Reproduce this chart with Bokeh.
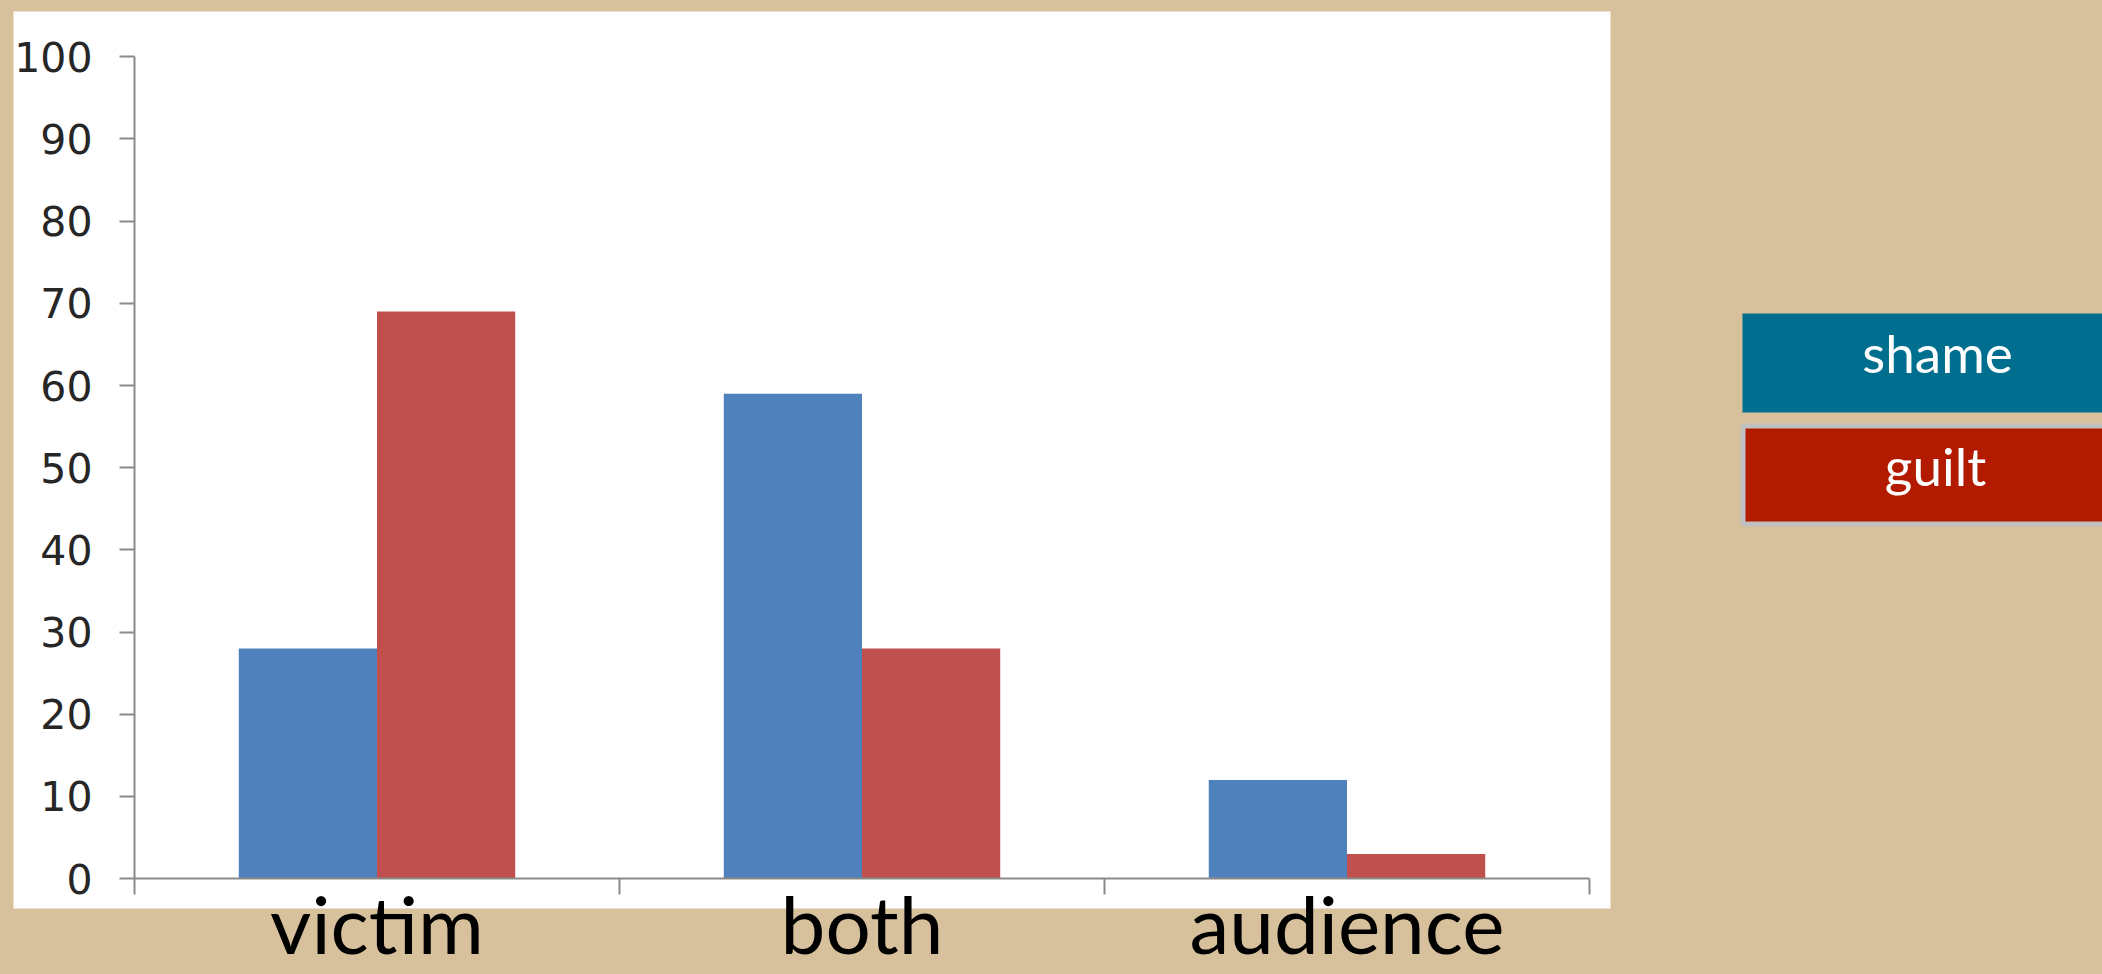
from bokeh.plotting import figure
from bokeh.models import (LinearAxis, FixedTicker, ColumnDataSource, Range1d,
                          BoxAnnotation, Label)
from bokeh.transform import dodge
from bokeh.embed import file_html
from bokeh.resources import INLINE

# ---- data ----
categories = ["victim", "both", "audience"]
shame = [28, 59, 12]
guilt = [69, 28, 3]
y_ticks = [0, 10, 20, 30, 40, 50, 60, 70, 80, 90, 100]
legend_labels = ["shame", "guilt"]

BEIGE = "#d7c19c"
BLUE = "#4f81bd"
RED = "#c0504d"
AXIS = "#8a8a8a"
W, H = 2102, 974

# layout geometry (pixels): where category axis starts, px per category, y=0 row, px per unit
AX_X, PX_CAT = 134.0, 485.0
AX_Y, PX_VAL = 878.1, 8.218


def dx(px):
    return (px - AX_X) / PX_CAT


def dy(py):
    return (AX_Y - py) / PX_VAL


idx = list(range(len(categories)))
centers = [i + 0.5 for i in idx]
src = ColumnDataSource(dict(x=centers, cat=categories, shame=shame, guilt=guilt))

p = figure(width=W, height=H, output_backend="svg", toolbar_location=None,
           x_range=Range1d(dx(0), dx(W)), y_range=Range1d(dy(H), dy(0)),
           x_axis_location=None, y_axis_location=None,
           min_border=0, min_border_left=0, min_border_right=0,
           min_border_top=0, min_border_bottom=0)
p.extra_x_ranges = {"lab": Range1d(dx(0) - 0.5, dx(W) - 0.5)}
p.background_fill_color = BEIGE
p.border_fill_color = BEIGE
p.outline_line_color = None
p.xgrid.visible = False
p.ygrid.visible = False

# white chart panel
p.add_layout(BoxAnnotation(left=dx(13), right=dx(1610), top=dy(11), bottom=dy(908),
                           fill_color="white", fill_alpha=1, line_color=None,
                           level="underlay"))

bw = 0.285
p.vbar(x=dodge("x", -bw / 2), top="shame", width=bw, bottom=0, source=src,
       fill_color=BLUE, line_color=None)
p.vbar(x=dodge("x", bw / 2), top="guilt", width=bw, bottom=0, source=src,
       fill_color=RED, line_color=None)

# y axis
ya = LinearAxis(fixed_location=0, bounds=(0, 100), ticker=FixedTicker(ticks=y_ticks))
ya.axis_line_color = AXIS
ya.axis_line_width = 2
ya.major_tick_line_color = AXIS
ya.major_tick_line_width = 2
ya.major_tick_in = 0
ya.major_tick_out = 15
ya.minor_tick_line_color = None
ya.major_label_standoff = 27
ya.major_label_text_font = "DejaVu Sans"
ya.major_label_text_font_size = "41px"
ya.major_label_text_color = "#262626"
p.add_layout(ya, "left")

# x axis (category boundary ticks)
xa = LinearAxis(fixed_location=0, bounds=(0, len(categories)),
                ticker=FixedTicker(ticks=list(range(len(categories) + 1))))
xa.axis_line_color = AXIS
xa.axis_line_width = 2
xa.major_tick_line_color = AXIS
xa.major_tick_line_width = 2
xa.major_tick_in = 0
xa.major_tick_out = 16
xa.minor_tick_line_color = None
xa.major_label_text_font_size = "1px"
xa.major_label_text_color = "white"
xa.major_label_text_alpha = 0
p.add_layout(xa, "below")

# x axis (category labels), on an index-based range
xl = LinearAxis(x_range_name="lab", fixed_location=0, ticker=FixedTicker(ticks=idx),
                major_label_overrides={i: n for i, n in zip(idx, categories)})
xl.axis_line_color = None
xl.major_tick_line_color = None
xl.minor_tick_line_color = None
xl.major_tick_in = 0
xl.major_tick_out = 0
xl.major_label_standoff = -4
xl.major_label_text_font = "Lato"
xl.major_label_text_font_size = "80px"
xl.major_label_text_color = "black"
p.add_layout(xl, "below")

# legend boxes
p.add_layout(BoxAnnotation(left=dx(1742), right=dx(2110), top=dy(313), bottom=dy(412),
                           fill_color="#006e8e", fill_alpha=1, line_color=None))
p.add_layout(BoxAnnotation(left=dx(1742.5), right=dx(2110), top=dy(425.5), bottom=dy(523.5),
                           fill_color="#b31b00", fill_alpha=1,
                           line_color="#c0c0c0", line_width=5, line_alpha=1))
for txt, lx, ly in zip(legend_labels, [1937, 1935], [352, 465]):
    p.add_layout(Label(x=dx(lx), y=dy(ly), text=txt,
                       text_align="center", text_baseline="alphabetic",
                       text_font="Lato", text_font_size="53px", text_color="white"))

html = file_html(p, INLINE)
html = html.replace("</head>", "<style>body{background:%s;}</style></head>" % BEIGE, 1)
open("out.html", "w").write(html)
